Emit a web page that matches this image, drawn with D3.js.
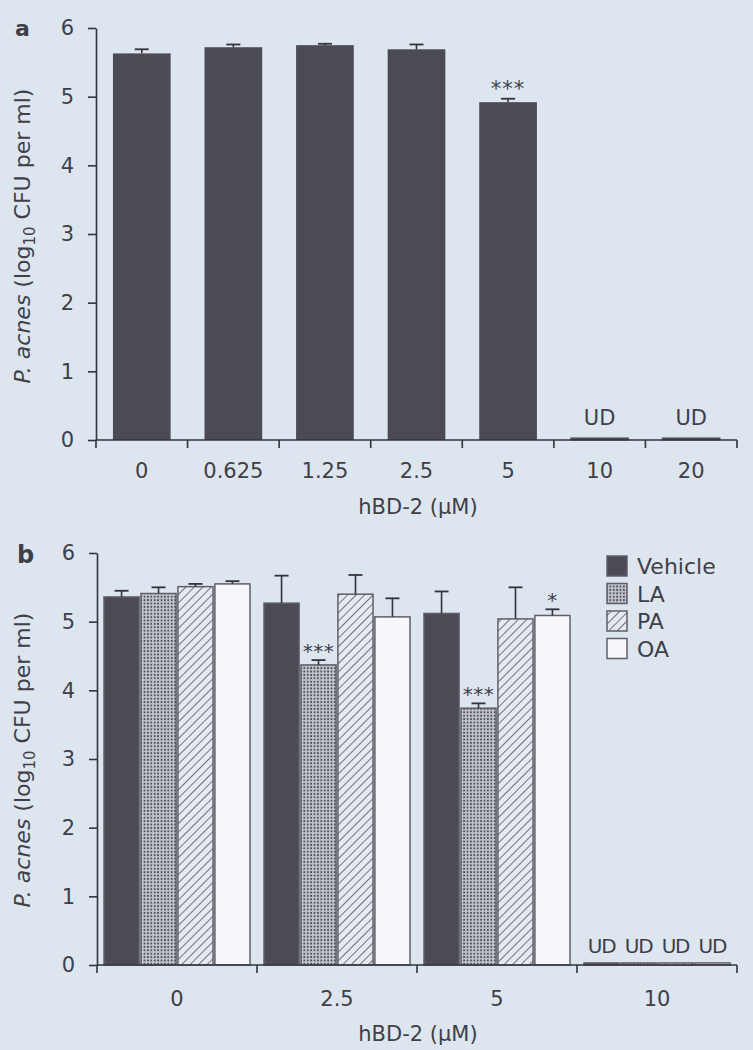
<!DOCTYPE html>
<html><head><meta charset="utf-8">
<script src="https://cdn.jsdelivr.net/npm/d3@7/dist/d3.min.js"></script>
<style>
html,body{margin:0;padding:0;background:#dde5ef;}
svg{display:block;}
text{font-family:"DejaVu Sans",sans-serif;fill:#3f3f48;}
</style></head>
<body>
<script>
// ---- Panel a data ----
const concA = ["0","0.625","1.25","2.5","5","10","20"];
const meanA = [5.63,5.72,5.75,5.69,4.92,0.03,0.03];
const errA  = [0.06,0.04,0.02,0.07,0.05,0,0];
const udA   = [false,false,false,false,false,true,true];
const sigA  = ["","","","","***","",""];

// ---- Panel b data ----
const concB = ["0","2.5","5","10"];
const seriesB = ["Vehicle","LA","PA","OA"];
const vehicleMean = [5.36,5.27,5.12,0.03];
const vehicleErr  = [0.09,0.40,0.32,0];
const laMean = [5.41,4.37,3.74,0.03];
const laErr  = [0.09,0.07,0.07,0];
const paMean = [5.51,5.40,5.04,0.03];
const paErr  = [0.04,0.28,0.46,0];
const oaMean = [5.55,5.07,5.09,0.03];
const oaErr  = [0.04,0.27,0.09,0];
const sigB = {"LA|2.5":"***","LA|5":"***","OA|5":"*"};
const udB = ["10"];
const yTicks = [0,1,2,3,4,5,6];

const W = 753, H = 1050;
const svg = d3.select("body").append("svg").attr("width",W).attr("height",H);

// patterns
const defs = svg.append("defs");
const pDot = defs.append("pattern").attr("id","dots").attr("patternUnits","userSpaceOnUse")
  .attr("width",3.4).attr("height",3.4);
pDot.append("rect").attr("width",3.4).attr("height",3.4).attr("fill","#c2c5ce");
pDot.append("circle").attr("cx",1.7).attr("cy",1.7).attr("r",1.0).attr("fill","#4c4c56");
const pHatch = defs.append("pattern").attr("id","hatch").attr("patternUnits","userSpaceOnUse")
  .attr("width",6).attr("height",6).attr("patternTransform","rotate(45)");
pHatch.append("rect").attr("width",6).attr("height",6).attr("fill","#e6e9ef");
pHatch.append("line").attr("x1",0).attr("y1",0).attr("x2",0).attr("y2",6)
  .attr("stroke","#5e5e68").attr("stroke-width",1.7);

const barDark = "#4b4b55";
const fills = {"Vehicle":barDark,"LA":"url(#dots)","PA":"url(#hatch)","OA":"#f6f7fa"};
const axisColor = "#33333b";

function yLabel(g, cx, cy){
  const t = g.append("text").attr("transform",`translate(${cx},${cy}) rotate(-90)`)
    .attr("text-anchor","middle").attr("font-size",22);
  t.append("tspan").attr("font-style","italic").text("P. acnes");
  t.append("tspan").text(" (log");
  t.append("tspan").attr("font-size",15).attr("dy",5).text("10");
  t.append("tspan").attr("dy",-5).text(" CFU per ml)");
}

function drawYAxis(g, y, x0){
  const ax = d3.axisLeft(y).tickValues(yTicks).tickFormat(d3.format("d"))
    .tickSize(8).tickPadding(14).tickSizeOuter(0);
  const a = g.append("g").attr("transform",`translate(${x0},0)`).call(ax);
  a.select(".domain").attr("stroke",axisColor).attr("stroke-width",1.6);
  a.selectAll(".tick line").attr("stroke",axisColor).attr("stroke-width",1.6);
  a.selectAll(".tick text").attr("font-size",21).attr("font-family","DejaVu Sans").attr("fill","#3f3f48");
}

function drawXAxis(g, x, yPos, labelY){
  g.append("line").attr("x1",x.range()[0]).attr("x2",x.range()[1]).attr("y1",yPos).attr("y2",yPos)
    .attr("stroke",axisColor).attr("stroke-width",1.6);
  const bounds = x.domain().map(d=>x(d)).concat([x.range()[1]]);
  g.selectAll(null).data(bounds).enter().append("line")
    .attr("x1",d=>d).attr("x2",d=>d).attr("y1",yPos).attr("y2",yPos+8)
    .attr("stroke",axisColor).attr("stroke-width",1.6);
  g.selectAll(null).data(x.domain()).enter().append("text")
    .attr("x",d=>x(d)+x.bandwidth()/2).attr("y",labelY).attr("text-anchor","middle")
    .attr("font-size",21).text(d=>d);
}

function errorBar(g, cx, yTop, yErr, cap){
  if (Math.abs(yTop-yErr) < 0.5) return;
  g.append("line").attr("x1",cx).attr("x2",cx).attr("y1",yTop).attr("y2",yErr)
    .attr("stroke",axisColor).attr("stroke-width",1.6);
  g.append("line").attr("x1",cx-cap/2).attr("x2",cx+cap/2).attr("y1",yErr).attr("y2",yErr)
    .attr("stroke",axisColor).attr("stroke-width",1.8);
}

// ===== Panel a =====
{
  const g = svg.append("g");
  const x = d3.scaleBand().domain(concA).range([96,737]).padding(0);
  const y = d3.scaleLinear().domain([0,6]).range([440,28]);
  const bw = x.bandwidth()*0.63;
  concA.forEach((c,i)=>{
    const cx = x(c)+x.bandwidth()/2;
    g.append("rect").attr("x",cx-bw/2).attr("width",bw)
      .attr("y",y(meanA[i])).attr("height",y(0)-y(meanA[i]))
      .attr("fill",barDark).attr("stroke",udA[i]?"#55555f":"none").attr("stroke-width",1);
    errorBar(g,cx,y(meanA[i]),y(meanA[i]+errA[i]),14);
    if (sigA[i]) g.append("text").attr("x",cx).attr("y",y(meanA[i]+errA[i])-3)
      .attr("text-anchor","middle").attr("font-size",21).attr("letter-spacing",1).attr("fill","#55555e").text(sigA[i]);
    if (udA[i]) g.append("text").attr("x",cx).attr("y",y(0)-15).attr("text-anchor","middle")
      .attr("font-size",21).text("UD");
  });
  drawYAxis(g,y,96);
  drawXAxis(g,x,440,478);
  g.append("text").attr("x",418).attr("y",514).attr("text-anchor","middle").attr("font-size",21).text("hBD-2 (μM)");
  yLabel(g,30,236);
  g.append("text").attr("x",15).attr("y",36).attr("font-size",22).attr("font-weight","bold").attr("fill","#333").text("a");
}

// ===== Panel b =====
{
  const g = svg.append("g");
  const x0 = d3.scaleBand().domain(concB).range([97,737]).padding(0);
  const x1 = d3.scaleBand().domain(seriesB).range([7,x0.bandwidth()-7]).paddingInner(0.05);
  const y = d3.scaleLinear().domain([0,6]).range([965,553]);
  const means = {"Vehicle":vehicleMean,"LA":laMean,"PA":paMean,"OA":oaMean};
  const errs  = {"Vehicle":vehicleErr,"LA":laErr,"PA":paErr,"OA":oaErr};
  concB.forEach((c,i)=>{
    seriesB.forEach(s=>{
      const v = means[s][i], e = errs[s][i];
      const bx = x0(c)+x1(s);
      g.append("rect").attr("x",bx).attr("width",x1.bandwidth())
        .attr("y",y(v)).attr("height",y(0)-y(v))
        .attr("fill",fills[s]).attr("stroke","#5f5f69").attr("stroke-width",1.5);
      const cx = bx+x1.bandwidth()/2;
      errorBar(g,cx,y(v),y(v+e),14);
      const key = s+"|"+c;
      if (sigB[key]) g.append("text").attr("x",cx).attr("y",y(v+e)-2)
        .attr("text-anchor","middle").attr("font-size",20).attr("letter-spacing",0.5).attr("fill","#55555e").text(sigB[key]);
      if (udB.includes(c)) g.append("text").attr("x",cx).attr("y",y(0)-12).attr("text-anchor","middle")
        .attr("font-size",20).attr("letter-spacing",-1.2).text("UD");
    });
  });
  drawYAxis(g,y,97);
  drawXAxis(g,x0,965,1006);
  g.append("text").attr("x",418).attr("y",1041).attr("text-anchor","middle").attr("font-size",21).text("hBD-2 (μM)");
  yLabel(g,30,760);
  g.append("text").attr("x",17).attr("y",563).attr("font-size",24).attr("font-weight","bold").attr("fill","#333").text("b");

  // legend
  const lg = g.append("g");
  seriesB.forEach((s,i)=>{
    const yy = 556 + i*27.5;
    lg.append("rect").attr("x",607).attr("y",yy).attr("width",20).attr("height",20)
      .attr("fill",fills[s]).attr("stroke","#5f5f69").attr("stroke-width",1.5);
    lg.append("text").attr("x",637).attr("y",yy+18).attr("font-size",22).text(s);
  });
}
</script>
</body></html>
